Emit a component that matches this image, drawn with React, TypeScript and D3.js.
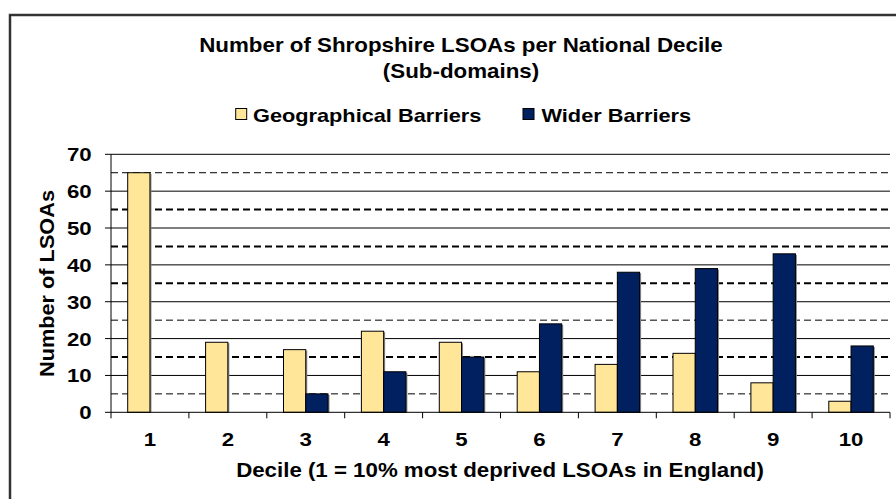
import React from "react";
import * as d3 from "d3";

const deciles = ["1", "2", "3", "4", "5", "6", "7", "8", "9", "10"];
const geographical = [65, 19, 17, 22, 19, 11, 13, 16, 8, 3];
const wider = [0, 0, 5, 11, 15, 24, 38, 39, 43, 18];
const seriesNames = ["Geographical Barriers", "Wider Barriers"];
const seriesColors = ["#FFE699", "#002060"];
const yTicks = [0, 10, 20, 30, 40, 50, 60, 70];
const yMinor = [5, 15, 25, 35, 45, 55, 65];
const thinMinor = [5, 25, 65];

const W = 896;
const H = 499;
const M = { left: 111, right: 890, top: 154.3, bottom: 412.3 };
const FONT = "Arial, 'Liberation Sans', Helvetica, sans-serif";

function SText({ x, y, size, sx = 1, anchor = "middle", rotate = 0, children }: any) {
  return (
    <text
      transform={`translate(${x},${y}) rotate(${rotate}) scale(${sx},1)`}
      fontFamily={FONT}
      fontWeight="bold"
      fontSize={size}
      textAnchor={anchor}
      fill="#000"
    >
      {children}
    </text>
  );
}

export default function App() {
  const x = d3.scaleBand<string>().domain(deciles).range([M.left, M.right]).paddingInner(0).paddingOuter(0);
  const inner = d3.scaleBand<number>().domain([0, 1]).range([0, x.bandwidth()]).paddingInner(0).paddingOuter(0.75);
  const y = d3.scaleLinear().domain([0, 70]).range([M.bottom, M.top]);
  const data = [geographical, wider];
  const boundaries = deciles.map((d) => x(d)!).concat([M.right]);

  return (
    <svg width={W} height={H} style={{ position: "absolute", left: 0, top: 0, background: "#fff" }}>
      <rect x={0} y={0} width={W} height={H} fill="#fff" />
      {/* outer chart border */}
      <rect x={10} y={15} width={920} height={520} fill="none" stroke="#9a9a9a" strokeWidth={3} />
      <rect x={10} y={15} width={920} height={520} fill="none" stroke="#1a1a1a" strokeWidth={1.6} />

      {/* title */}
      <SText x={461} y={52} size={20} sx={1.117}>Number of Shropshire LSOAs per National Decile</SText>
      <SText x={461} y={78} size={20} sx={1.117}>(Sub-domains)</SText>

      {/* legend */}
      <rect x={235.7} y={108.5} width={11} height={11} fill={seriesColors[0]} stroke="#000" strokeWidth={1} />
      <SText x={253} y={121.5} size={19} sx={1.145} anchor="start">{seriesNames[0]}</SText>
      <rect x={523} y={108.5} width={11} height={11} fill={seriesColors[1]} stroke="#000" strokeWidth={1} />
      <SText x={541.5} y={121.5} size={19} sx={1.145} anchor="start">{seriesNames[1]}</SText>

      {/* gridlines */}
      {yMinor.map((v) => (
        <line key={"m" + v} x1={M.left} x2={M.right} y1={y(v)} y2={y(v)} stroke="#000"
          strokeWidth={thinMinor.includes(v) ? 1 : 2} strokeDasharray="7,4" />
      ))}
      {yTicks.filter((v) => v > 0).map((v) => (
        <line key={"g" + v} x1={M.left} x2={M.right} y1={y(v)} y2={y(v)} stroke="#000" strokeWidth={1} />
      ))}

      {/* bars */}
      {data.map((series, si) =>
        series.map((v, i) => {
          const bx = x(deciles[i])! + inner(si)!;
          const bw = inner.bandwidth();
          const top = y(v);
          const h = M.bottom - top;
          if (h <= 0) return null;
          return (
            <g key={`b${si}-${i}`}>
              <rect x={bx + 1.5} y={top + 1} width={bw} height={h - 1} fill="#8a8a8a" />
              <rect x={bx} y={top} width={bw} height={h} fill={seriesColors[si]} stroke="#000" strokeWidth={1} />
            </g>
          );
        })
      )}

      {/* axes */}
      <line x1={M.left} x2={M.left} y1={M.top} y2={M.bottom} stroke="#000" strokeWidth={1} />
      <line x1={M.left} x2={M.right} y1={M.bottom} y2={M.bottom} stroke="#000" strokeWidth={1} />
      {yTicks.map((v) => (
        <g key={"yt" + v}>
          <line x1={M.left - 6} x2={M.left} y1={y(v)} y2={y(v)} stroke="#000" strokeWidth={1} />
          <SText x={91.7} y={y(v) + 7} size={17.5} sx={1.27} anchor="end">{String(v)}</SText>
        </g>
      ))}
      {boundaries.map((bx, i) => (
        <line key={"xt" + i} x1={bx} x2={bx} y1={M.bottom} y2={M.bottom + 6} stroke="#000" strokeWidth={1} />
      ))}
      {deciles.map((d) => (
        <SText key={"xl" + d} x={x(d)! + x.bandwidth() / 2} y={446} size={17.5} sx={1.27}>{d}</SText>
      ))}

      {/* axis titles */}
      <SText x={500} y={477} size={20} sx={1.114}>Decile (1 = 10% most deprived LSOAs in England)</SText>
      <SText x={54} y={283.5} size={20} sx={1.087} rotate={-90}>Number of LSOAs</SText>
    </svg>
  );
}
